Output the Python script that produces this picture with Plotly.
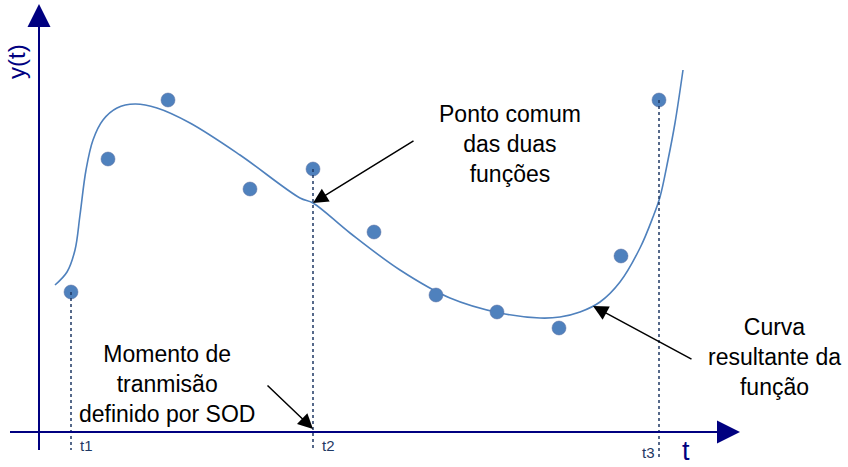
"""Ajuste de curva com pontos amostrados (Plotly)."""

import plotly.graph_objects as go

# pontos medidos (t, y)
pontos_t = [71, 108, 168, 250, 313, 374, 436, 497, 559, 621, 659]
pontos_y = [292, 159, 100, 189, 169, 232, 295, 312, 328, 256, 100]

# curva resultante da função
curva_t = [55, 67, 75, 80, 86, 93, 103, 117, 135, 157, 190, 240, 300, 313,
           350, 400, 450, 500, 540, 560, 580, 600, 620, 640, 653, 660, 668, 675, 683]
curva_y = [285, 272, 250, 215, 170, 140, 120, 108, 104, 108, 123, 155, 198, 203,
           233, 270, 298, 313, 318, 317, 312, 302, 282, 248, 217, 197, 160, 123, 70]

# instantes marcados no eixo
marcas_nome = ["t1", "t2", "t3"]
marcas_t = [71, 313, 659]
marcas_topo = [292, 169, 100]

AZUL = "#4F81BD"
NAVY = "#000080"
ESCURO = "#1F3864"
FONTE = "Liberation Sans, Arial, sans-serif"

fig = go.Figure()

# linhas pontilhadas verticais
for t, topo in zip(marcas_t, marcas_topo):
    fig.add_shape(type="line", x0=t, x1=t, y0=topo, y1=460 if t > 600 else 450,
                  line=dict(color=ESCURO, width=1.5, dash="dot"))

# eixos
fig.add_shape(type="line", x0=10, x1=725, y0=432, y1=432, line=dict(color=NAVY, width=2))
fig.add_shape(type="line", x0=39, x1=39, y0=450, y1=20, line=dict(color=NAVY, width=2))

fig.add_trace(go.Scatter(x=curva_t, y=curva_y, mode="lines",
                         line=dict(color=AZUL, width=1.6, shape="spline", smoothing=1.0),
                         hoverinfo="skip"))
fig.add_trace(go.Scatter(x=pontos_t, y=pontos_y, mode="markers",
                         marker=dict(color=AZUL, size=14, line=dict(color="#5A6FA0", width=0.5))))

anotacoes = [
    # setas dos eixos
    dict(x=39, y=4, ax=39, ay=40, arrowcolor=NAVY, arrowwidth=2, arrowhead=2, arrowsize=2.3, text=""),
    dict(x=740, y=432, ax=700, ay=432, arrowcolor=NAVY, arrowwidth=2, arrowhead=2, arrowsize=2.3, text=""),
    # setas de legenda
    dict(x=313, y=203, ax=415, ay=140, arrowcolor="black", arrowwidth=1.5, arrowhead=2, arrowsize=2, text=""),
    dict(x=593, y=306, ax=693, ay=360, arrowcolor="black", arrowwidth=1.5, arrowhead=2, arrowsize=2, text=""),
    dict(x=313, y=429, ax=266, ay=384, arrowcolor="black", arrowwidth=1.5, arrowhead=2, arrowsize=2, text=""),
]
for a in anotacoes:
    a.update(xref="x", yref="y", axref="x", ayref="y", showarrow=True, standoff=0)
    fig.add_annotation(**a)

textos = [
    dict(x=510, y=144, text="Ponto comum<br>das duas<br>funções"),
    dict(x=774, y=357, text="Curva<br>resultante da<br>função"),
    dict(x=167, y=384, text="Momento de<br>tranmisão<br>definido por SOD"),
]
for a in textos:
    fig.add_annotation(xref="x", yref="y", showarrow=False, align="center",
                       font=dict(family=FONTE, size=23, color="black"), **a)

fig.add_annotation(x=16, y=62, xref="x", yref="y", text="y(t)", textangle=-90, showarrow=False,
                   font=dict(family=FONTE, size=24, color=NAVY))
fig.add_annotation(x=686, y=467, xref="x", yref="y", yanchor="bottom", text="t", showarrow=False,
                   borderpad=0, font=dict(family=FONTE, size=27, color=NAVY))
for nome, t in zip(marcas_nome, marcas_t):
    fig.add_annotation(x=t + (-11 if t > 600 else 15), y=445 if t < 600 else 452,
                       xref="x", yref="y", text=nome, showarrow=False,
                       font=dict(family=FONTE, size=15, color=ESCURO))

fig.update_layout(
    width=848, height=467,
    margin=dict(l=0, r=0, t=0, b=0),
    plot_bgcolor="white", paper_bgcolor="white",
    showlegend=False,
    xaxis=dict(range=[0, 848], visible=False, fixedrange=True),
    yaxis=dict(range=[467, 0], visible=False, fixedrange=True),
)

fig.write_html("out.html", config={"displayModeBar": False},
               post_script="document.body.style.margin='0';")
